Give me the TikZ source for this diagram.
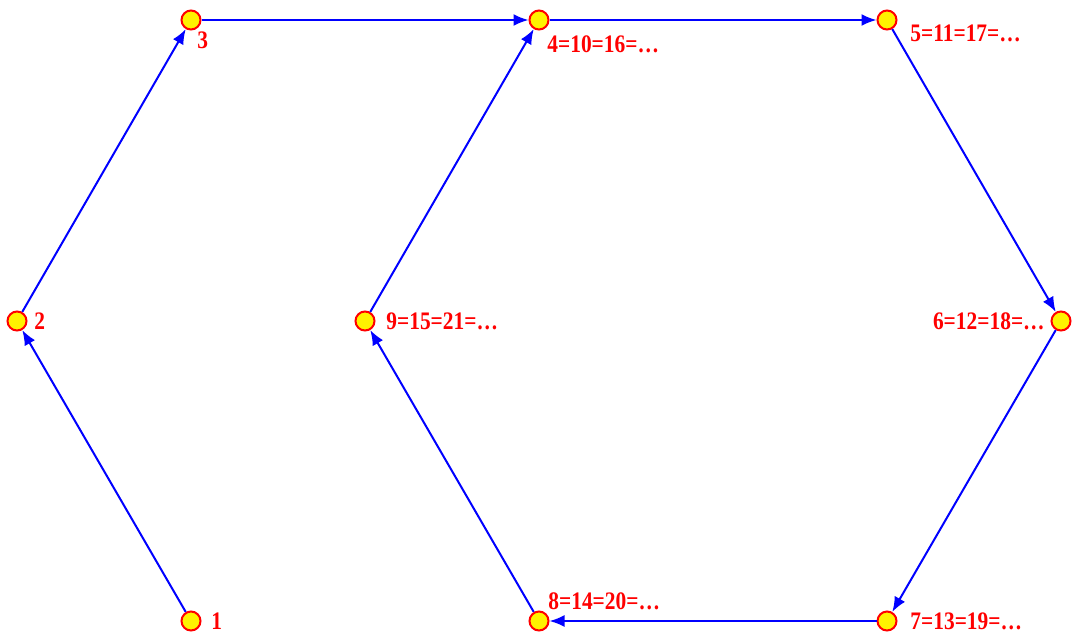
\documentclass[tikz,border=0pt]{standalone}
\usepackage{fontspec}
\newfontfamily\lblfont[FakeStretch=0.85]{Liberation Serif}
\usetikzlibrary{arrows.meta}

\begin{document}
\begin{tikzpicture}[x=0.5pt,y=-0.5pt,
  dot/.style={circle, draw=red, fill=yellow, line width=1pt, inner sep=0pt, minimum size=9.5pt},
  lbl/.style={text=red, font=\lblfont\fontsize{12.6}{14}\selectfont\bfseries, inner sep=0pt, anchor=west},
  edge/.style={draw=blue, line width=1pt, -{Latex[length=7.5pt,width=6pt]}}]
\useasboundingbox (0,0) rectangle (1080,643);

% points of the walk
\node[dot] (n1) at (191,621) {};
\node[dot] (n2) at (17,321) {};
\node[dot] (n3) at (191,20) {};
\node[dot] (n4) at (539,20) {};
\node[dot] (n5) at (887,20) {};
\node[dot] (n6) at (1061,321) {};
\node[dot] (n7) at (887,621) {};
\node[dot] (n8) at (539,621) {};
\node[dot] (n9) at (365,321) {};

% labels
\node[lbl] (t1) at ([xshift=10pt]n1) {1};
\node[lbl] (t2) at ([xshift=8.5pt]n2) {2};
\node[lbl] (t3) at ([xshift=3pt,yshift=-10pt]n3) {3};
\node[lbl] (t4) at ([xshift=4pt,yshift=-12pt]n4) {4=10=16=\dots};
\node[lbl] (t5) at ([xshift=11.5pt,yshift=-6.5pt]n5) {5=11=17=\dots};
\node[lbl, anchor=east] (t6) at ([xshift=-8pt]n6) {6=12=18=\dots};
\node[lbl] (t7) at ([xshift=11.5pt]n7) {7=13=19=\dots};
\node[lbl] (t8) at ([xshift=4.5pt,yshift=10pt]n8) {8=14=20=\dots};
\node[lbl] (t9) at ([xshift=10.5pt]n9) {9=15=21=\dots};

% steps
\draw[edge] (n1) -- (n2);
\draw[edge] (n2) -- (n3);
\draw[edge] (n3) -- (n4);
\draw[edge] (n4) -- (n5);
\draw[edge] (n5) -- (n6);
\draw[edge] (n6) -- (n7);
\draw[edge] (n7) -- (n8);
\draw[edge] (n8) -- (n9);
\draw[edge] (n9) -- (n4);

\end{tikzpicture}
\end{document}
